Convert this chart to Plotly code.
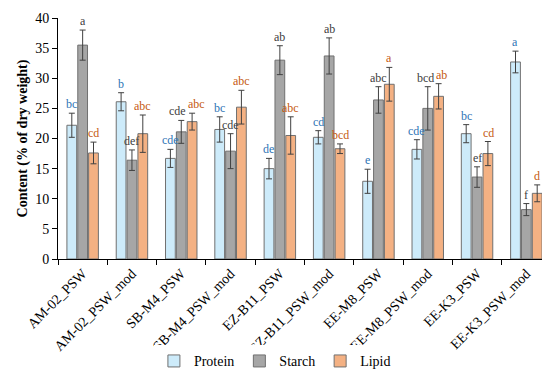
import plotly.graph_objects as go

categories = ["AM-02_PSW", "AM-02_PSW_mod", "SB-M4_PSW", "SB-M4_PSW_mod", "EZ-B11_PSW",
              "EZ-B11_PSW_mod", "EE-M8_PSW", "EE-M8_PSW_mod", "EE-K3_PSW", "EE-K3_PSW_mod"]

protein = [22.2, 26.1, 16.7, 21.5, 15.0, 20.2, 12.9, 18.2, 20.8, 32.7]
protein_err = [2.0, 1.5, 1.5, 2.1, 1.7, 1.1, 2.0, 1.6, 1.5, 1.8]
protein_letters = ["bc", "b", "cde", "bc", "de", "cd", "e", "cde", "bc", "a"]

starch = [35.5, 16.4, 21.1, 17.9, 33.0, 33.7, 26.4, 25.0, 13.6, 8.2]
starch_err = [2.5, 1.7, 1.9, 2.9, 2.4, 3.0, 2.2, 3.6, 1.7, 1.0]
starch_letters = ["a", "def", "cde", "cde", "ab", "ab", "abc", "bcd", "ef", "f"]

lipid = [17.6, 20.8, 22.8, 25.2, 20.5, 18.3, 29.0, 27.0, 17.5, 10.9]
lipid_err = [1.8, 3.1, 1.4, 2.8, 3.1, 0.8, 2.8, 2.1, 2.0, 1.4]
lipid_letters = ["cd", "abc", "abc", "abc", "abc", "bcd", "a", "ab", "cd", "d"]

y_ticks = [0, 5, 10, 15, 20, 25, 30, 35, 40]

FONT = "Liberation Serif"
series = [
    ("Protein", protein, protein_err, protein_letters, "#CDEBFA", "#2E75B6"),
    ("Starch", starch, starch_err, starch_letters, "#A6A6A6", "#404040"),
    ("Lipid", lipid, lipid_err, lipid_letters, "#F4B183", "#C55A11"),
]

# label layout helpers (pixel geometry of the plot)
BAR_STEP = 11          # px between adjacent bar centres in a group
PX_PER_UNIT = 241 / 40  # plot height / y range
CHAR_W = 6.0
LABEL_H = 13

# base shifts and collision nudges
shifts = [[(i - 1) * BAR_STEP for _ in categories] for i in range(3)]
for g in range(len(categories)):
    for i in range(2):
        a, b = series[i], series[i + 1]
        ya = (a[1][g] + a[2][g]) * PX_PER_UNIT
        yb = (b[1][g] + b[2][g]) * PX_PER_UNIT
        if abs(ya - yb) < LABEL_H:
            need = (len(a[3][g]) + len(b[3][g])) * CHAR_W / 2 + 1
            gap = shifts[i + 1][g] - shifts[i][g]
            if need > gap:
                d = (need - gap) / 2
                shifts[i][g] -= d
                shifts[i + 1][g] += d

fig = go.Figure()
for i, (name, vals, errs, letters, fill, lcol) in enumerate(series):
    fig.add_trace(go.Bar(
        name=name, x=categories, y=vals,
        marker=dict(color=fill, line=dict(color="#707070", width=1)),
        error_y=dict(type="data", array=errs, visible=True, color="#404040", thickness=1, width=3),
    ))
    for g, (c, v, e, t) in enumerate(zip(categories, vals, errs, letters)):
        fig.add_annotation(x=c, y=v + e, text=t, showarrow=False, xref="x", yref="y",
                           xshift=shifts[i][g], yanchor="bottom", yshift=0,
                           font=dict(family=FONT, size=12, color=lcol))

fig.update_layout(
    width=550, height=370,
    margin=dict(l=50, r=7, t=10, b=119, autoexpand=False),
    barmode="group", bargap=0.34, bargroupgap=0.1,
    plot_bgcolor="white", paper_bgcolor="white",
    font=dict(family=FONT, size=13, color="black"),
    showlegend=True,
    legend=dict(orientation="h", x=0.44, xanchor="center", yref="container", y=0.045,
                yanchor="middle", font=dict(family=FONT, size=14), itemwidth=30,
                traceorder="normal"),
    yaxis=dict(range=[0, 40], tickvals=y_ticks, showgrid=False, showline=True, linecolor="black",
               linewidth=1, ticks="outside", ticklen=5, tickcolor="black", zeroline=False,
               automargin=False,
               tickfont=dict(family=FONT, size=14),
               title=dict(text="<b>Content (% of dry weight)</b>", font=dict(family=FONT, size=14),
                          standoff=4)),
    xaxis=dict(showgrid=False, showline=True, linecolor="black", linewidth=1, ticks="outside",
               tickson="boundaries", ticklen=5, tickcolor="black", tickangle=-45, automargin=False,
               tickfont=dict(family=FONT, size=14)),
)

fig.write_html("out.html")
